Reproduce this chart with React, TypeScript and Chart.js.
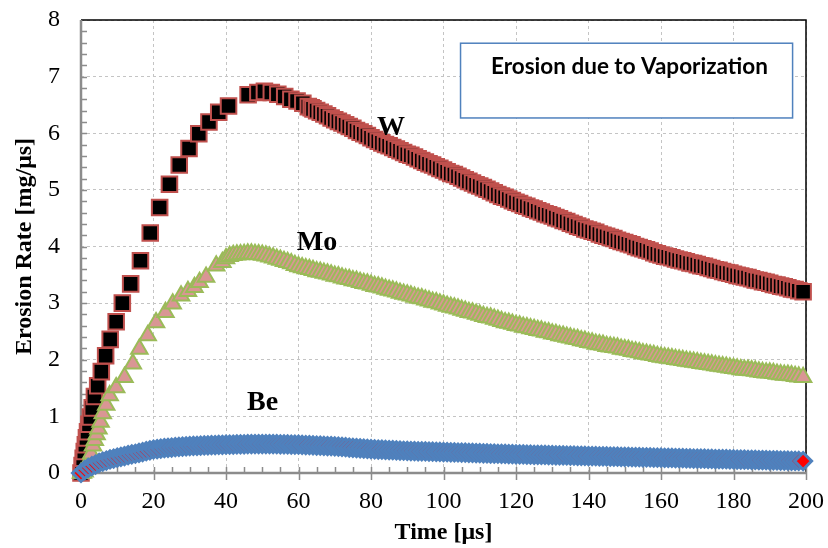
import React, { useEffect, useRef } from "react";
import { Chart, registerables } from "chart.js";

Chart.register(...registerables);

// shared time grid of the dense part of the simulation output [µs]
const GRID_T = [
  0, 1, 2, 3, 4, 5, 6, 7, 8, 9, 10, 11, 12, 13, 14, 15, 16, 17, 18, 19,
  20, 21, 22, 23, 24, 25, 26, 27, 28, 29, 30, 31, 32, 33, 34, 35, 36, 37, 38, 39,
  40, 41, 42, 43, 44, 45, 46, 47, 48, 49, 50, 51, 52, 53, 54, 55, 56, 57, 58, 59,
  60, 61, 62, 63, 64, 65, 66, 67, 68, 69, 70, 71, 72, 73, 74, 75, 76, 77, 78, 79,
  80, 81, 82, 83, 84, 85, 86, 87, 88, 89, 90, 91, 92, 93, 94, 95, 96, 97, 98, 99,
  100, 101, 102, 103, 104, 105, 106, 107, 108, 109, 110, 111, 112, 113, 114, 115, 116, 117, 118, 119,
  120, 121, 122, 123, 124, 125, 126, 127, 128, 129, 130, 131, 132, 133, 134, 135, 136, 137, 138, 139,
  140, 141, 142, 143, 144, 145, 146, 147, 148, 149, 150, 151, 152, 153, 154, 155, 156, 157, 158, 159,
  160, 161, 162, 163, 164, 165, 166, 167, 168, 169, 170, 171, 172, 173, 174, 175, 176, 177, 178, 179,
  180, 181, 182, 183, 184, 185, 186, 187, 188, 189, 190, 191, 192, 193, 194, 195, 196, 197, 198, 199.2,
];

// W
const W_EARLY_T = [
  0, 0.3, 0.6, 0.9, 1.2, 1.5, 1.8, 2.2, 2.6, 3.1,
  3.7, 4.6, 5.6, 6.8, 8.05, 9.7, 11.4, 13.7, 16.4, 19.1,
  21.7, 24.4, 27.1, 29.8, 32.5, 35.3, 38.0, 40.7, 46.1, 48.8,
  50.6, 52.5, 54.3, 56.2, 57.9, 59.6, 61.2, 62.7, 63.5,
];
const W_EARLY_V = [
  0, 0.13, 0.26, 0.38, 0.5, 0.62, 0.73, 0.86, 0.99, 1.15,
  1.35, 1.54, 1.79, 2.07, 2.36, 2.67, 3.0, 3.34, 3.75, 4.24,
  4.69, 5.1, 5.44, 5.73, 5.99, 6.2, 6.37, 6.48, 6.68, 6.72,
  6.74, 6.72, 6.69, 6.65, 6.6, 6.57, 6.53, 6.47, 6.45,
];
const W_LATE_START = 64;
const W_LATE_V = [
  6.43, 6.4, 6.37, 6.34, 6.31, 6.27, 6.24, 6.21, 6.18, 6.15,
  6.12, 6.09, 6.05, 6.02, 5.99, 5.96, 5.92, 5.89, 5.86, 5.83,
  5.8, 5.78, 5.75, 5.72, 5.69, 5.66, 5.63, 5.61, 5.58, 5.55,
  5.52, 5.49, 5.46, 5.44, 5.41, 5.38, 5.35, 5.32, 5.29, 5.27,
  5.24, 5.21, 5.18, 5.15, 5.12, 5.09, 5.07, 5.04, 5.01, 4.98,
  4.95, 4.92, 4.89, 4.87, 4.84, 4.81, 4.78, 4.76, 4.73, 4.71,
  4.68, 4.66, 4.63, 4.61, 4.58, 4.56, 4.54, 4.51, 4.49, 4.46,
  4.44, 4.41, 4.39, 4.36, 4.34, 4.31, 4.29, 4.27, 4.25, 4.22,
  4.2, 4.18, 4.16, 4.14, 4.11, 4.09, 4.07, 4.05, 4.03, 4.0,
  3.98, 3.96, 3.94, 3.92, 3.89, 3.87, 3.85, 3.83, 3.82, 3.8,
  3.78, 3.76, 3.75, 3.73, 3.71, 3.7, 3.68, 3.66, 3.65, 3.63,
  3.61, 3.59, 3.58, 3.56, 3.54, 3.53, 3.51, 3.49, 3.48, 3.46,
  3.45, 3.43, 3.41, 3.4, 3.38, 3.37, 3.35, 3.33, 3.32, 3.3,
  3.29, 3.27, 3.25, 3.24, 3.22, 3.2,
];

// Mo
const MO_EARLY_T = [
  0, 0.5, 1.0, 1.5, 1.9, 2.3, 2.8, 3.3, 3.8, 4.3,
  4.8, 5.4, 6.0, 6.95, 7.9, 9.7, 12.0, 14.3, 16.1, 18.4,
  20.7, 23.3, 25.3, 27.6, 29.5, 31.3, 32.7, 34.5, 37.3,
];
const MO_EARLY_V = [
  0, 0.0, 0.02, 0.08, 0.12, 0.23, 0.34, 0.48, 0.58, 0.68,
  0.78, 0.9, 1.05, 1.2, 1.37, 1.51, 1.69, 1.93, 2.19, 2.43,
  2.66, 2.84, 2.99, 3.13, 3.21, 3.28, 3.37, 3.46, 3.66,
];
const MO_LATE_START = 39;
const MO_LATE_V = [
  3.72, 3.79, 3.83, 3.845, 3.855, 3.86, 3.865, 3.87, 3.87, 3.865,
  3.86, 3.85, 3.835, 3.82, 3.8, 3.78, 3.76, 3.74, 3.72, 3.7,
  3.67, 3.645, 3.63, 3.61, 3.6, 3.58, 3.56, 3.55, 3.53, 3.52,
  3.5, 3.48, 3.47, 3.45, 3.43, 3.42, 3.4, 3.39, 3.37, 3.35,
  3.34, 3.32, 3.3, 3.29, 3.27, 3.25, 3.23, 3.22, 3.2, 3.18,
  3.16, 3.15, 3.13, 3.11, 3.09, 3.08, 3.06, 3.04, 3.02, 3.01,
  2.99, 2.97, 2.95, 2.93, 2.92, 2.9, 2.88, 2.86, 2.84, 2.83,
  2.81, 2.79, 2.77, 2.75, 2.74, 2.72, 2.7, 2.68, 2.66, 2.65,
  2.63, 2.61, 2.6, 2.58, 2.57, 2.55, 2.54, 2.52, 2.51, 2.49,
  2.48, 2.46, 2.45, 2.43, 2.42, 2.4, 2.39, 2.37, 2.36, 2.34,
  2.33, 2.31, 2.3, 2.28, 2.27, 2.26, 2.24, 2.23, 2.22, 2.21,
  2.19, 2.18, 2.17, 2.15, 2.14, 2.13, 2.11, 2.1, 2.09, 2.08,
  2.06, 2.05, 2.04, 2.03, 2.02, 2.01, 2.0, 1.99, 1.98, 1.97,
  1.96, 1.95, 1.94, 1.93, 1.92, 1.91, 1.9, 1.89, 1.88, 1.87,
  1.86, 1.85, 1.84, 1.83, 1.82, 1.82, 1.81, 1.8, 1.79, 1.78,
  1.77, 1.77, 1.76, 1.75, 1.74, 1.73, 1.73, 1.72, 1.71, 1.7,
  1.69,
];

// Be (on the full grid)
const BE_V = [
  0.0, 0.05, 0.09, 0.12, 0.15, 0.18, 0.2, 0.22, 0.24, 0.255,
  0.27, 0.285, 0.3, 0.315, 0.33, 0.34, 0.355, 0.37, 0.385, 0.4,
  0.415, 0.42, 0.43, 0.44, 0.445, 0.45, 0.455, 0.46, 0.465, 0.47,
  0.475, 0.477, 0.48, 0.483, 0.486, 0.489, 0.492, 0.494, 0.496, 0.498,
  0.5, 0.502, 0.503, 0.505, 0.506, 0.507, 0.508, 0.509, 0.51, 0.51,
  0.51, 0.51, 0.51, 0.509, 0.508, 0.507, 0.506, 0.505, 0.503, 0.501,
  0.5, 0.497, 0.494, 0.491, 0.488, 0.485, 0.482, 0.479, 0.476, 0.473,
  0.47, 0.465, 0.46, 0.455, 0.45, 0.445, 0.44, 0.435, 0.43, 0.425,
  0.42, 0.417, 0.414, 0.411, 0.408, 0.405, 0.402, 0.399, 0.396, 0.393,
  0.39, 0.388, 0.386, 0.384, 0.382, 0.38, 0.378, 0.376, 0.374, 0.372,
  0.37, 0.368, 0.366, 0.364, 0.362, 0.36, 0.358, 0.356, 0.354, 0.352,
  0.35, 0.348, 0.346, 0.344, 0.342, 0.34, 0.338, 0.336, 0.334, 0.332,
  0.33, 0.328, 0.327, 0.325, 0.324, 0.322, 0.321, 0.319, 0.318, 0.316,
  0.315, 0.313, 0.312, 0.31, 0.309, 0.307, 0.306, 0.304, 0.303, 0.301,
  0.3, 0.298, 0.297, 0.295, 0.294, 0.292, 0.291, 0.289, 0.288, 0.286,
  0.285, 0.283, 0.282, 0.28, 0.279, 0.277, 0.276, 0.274, 0.273, 0.271,
  0.27, 0.268, 0.267, 0.265, 0.264, 0.262, 0.261, 0.259, 0.258, 0.256,
  0.255, 0.253, 0.252, 0.25, 0.249, 0.247, 0.246, 0.244, 0.243, 0.241,
  0.24, 0.238, 0.237, 0.235, 0.234, 0.232, 0.231, 0.229, 0.228, 0.226,
  0.225, 0.223, 0.222, 0.22, 0.219, 0.217, 0.216, 0.214, 0.213, 0.21,
];

const SERIES_LABELS = ["W", "Mo", "Be"];
const LABEL_T = [85.5, 65.1, 50.1];
const LABEL_V = [5.97, 3.94, 1.11];

const BOX_TEXT = "Erosion due to Vaporization";
const BOX_T = [104.7, 196.3];
const BOX_V = [7.59, 6.27];
const BOX_TEXT_T = 151.3;
const BOX_TEXT_V = 7.05;

const X_TITLE = "Time [μs]";
const Y_TITLE = "Erosion Rate [mg/μs]";

function pts(ts: number[], vs: number[]) {
  return ts.map((t, i) => ({ x: t, y: vs[i] }));
}

const SERIF = "'Liberation Serif', 'Times New Roman', serif";

const decor = {
  id: "decor",
  beforeDatasetsDraw(chart: any) {
    const { ctx, chartArea: a, scales } = chart;
    const x = scales.x;
    const y = scales.y;
    ctx.save();
    ctx.strokeStyle = "#000";
    ctx.lineWidth = 1.5;
    ctx.beginPath();
    ctx.moveTo(a.left, a.top);
    ctx.lineTo(a.right, a.top);
    ctx.lineTo(a.right, a.bottom);
    ctx.stroke();
    ctx.strokeStyle = "#8c8c8c";
    ctx.lineWidth = 2.5;
    ctx.beginPath();
    ctx.moveTo(a.left, a.top);
    ctx.lineTo(a.left, a.bottom);
    ctx.lineTo(a.right, a.bottom);
    ctx.stroke();
    ctx.lineWidth = 1.5;
    ctx.beginPath();
    for (let k = 1; k < 40; k++) {
      const py = Math.round(y.getPixelForValue(k * 0.2)) + 0.5;
      ctx.moveTo(a.left, py);
      ctx.lineTo(a.left + 6, py);
    }
    for (let k = 1; k <= 40; k++) {
      const px = Math.round(x.getPixelForValue(k * 5)) + 0.5;
      if (k % 4 === 0) {
        ctx.moveTo(px, a.bottom + 7);
        ctx.lineTo(px, a.bottom - 6);
      } else {
        ctx.moveTo(px, a.bottom);
        ctx.lineTo(px, a.bottom - 6);
      }
    }
    ctx.stroke();
    ctx.restore();
  },
  afterDatasetsDraw(chart: any) {
    const { ctx, scales } = chart;
    const x = scales.x;
    const y = scales.y;
    ctx.save();
    ctx.fillStyle = "#000";
    ctx.textAlign = "center";
    ctx.textBaseline = "alphabetic";
    ctx.font = `bold 28px ${SERIF}`;
    SERIES_LABELS.forEach((s, i) => {
      ctx.fillText(s, x.getPixelForValue(LABEL_T[i]), y.getPixelForValue(LABEL_V[i]));
    });
    const bx0 = x.getPixelForValue(BOX_T[0]);
    const bx1 = x.getPixelForValue(BOX_T[1]);
    const by0 = y.getPixelForValue(BOX_V[0]);
    const by1 = y.getPixelForValue(BOX_V[1]);
    ctx.fillStyle = "#fff";
    ctx.fillRect(bx0, by0, bx1 - bx0, by1 - by0);
    ctx.strokeStyle = "#4f81bd";
    ctx.lineWidth = 1.5;
    ctx.strokeRect(bx0, by0, bx1 - bx0, by1 - by0);
    ctx.fillStyle = "#000";
    ctx.font = "bold 20px 'Lato', 'Liberation Sans', sans-serif";
    const w = ctx.measureText(BOX_TEXT).width;
    const size = (20 * 277) / w;
    ctx.font = `bold ${size.toFixed(2)}px 'Lato', 'Liberation Sans', sans-serif`;
    ctx.fillText(BOX_TEXT, x.getPixelForValue(BOX_TEXT_T), y.getPixelForValue(BOX_TEXT_V));
    ctx.restore();
  },
};

export default function App() {
  const ref = useRef<HTMLCanvasElement>(null);
  useEffect(() => {
    document.body.style.margin = "0";
    const canvas = ref.current;
    if (!canvas) return;
    const wData = pts(
      [...W_EARLY_T, ...GRID_T.slice(W_LATE_START)],
      [...W_EARLY_V, ...W_LATE_V]
    );
    const moData = pts(
      [...MO_EARLY_T, ...GRID_T.slice(MO_LATE_START)],
      [...MO_EARLY_V, ...MO_LATE_V]
    );
    const beData = pts(GRID_T, BE_V);
    const chart = new Chart(canvas, {
      type: "scatter",
      data: {
        datasets: [
          {
            label: "W",
            data: wData,
            order: 3,
            pointStyle: "rect",
            pointRadius: 11,
            backgroundColor: "#000000",
            borderColor: "#c0504d",
            borderWidth: 2,
            clip: false,
          } as any,
          {
            label: "Mo",
            data: moData,
            order: 2,
            pointStyle: "triangle",
            pointRadius: 9.5,
            backgroundColor: "#d99694",
            borderColor: "#9bbb59",
            borderWidth: 2,
            clip: false,
          } as any,
          {
            label: "Be",
            data: beData,
            order: 1,
            pointStyle: "rectRot",
            pointRadius: 8.5,
            backgroundColor: "#ff0000",
            borderColor: "#4f81bd",
            borderWidth: 3,
            clip: false,
          } as any,
        ],
      },
      options: {
        animation: false,
        responsive: false,
        events: [],
        layout: { padding: { left: 0, right: 22, top: 20, bottom: 0 } },
        plugins: { legend: { display: false }, tooltip: { enabled: false } },
        scales: {
          x: {
            type: "linear",
            min: 0,
            max: 200,
            afterFit: (s: any) => {
              s.height = 75;
            },
            ticks: {
              stepSize: 20,
              padding: 0,
              color: "#000",
              maxRotation: 0,
              font: { family: SERIF, size: 24 },
            },
            grid: {
              color: "#c4c4c4",
              lineWidth: 1,
              drawTicks: true,
              tickLength: 14,
              tickColor: "rgba(0,0,0,0)",
            },
            border: { display: false, dash: [3, 3] },
            title: {
              display: true,
              text: X_TITLE,
              color: "#000",
              font: { family: SERIF, size: 24, weight: "bold" },
              padding: { top: 0, bottom: 1 },
            },
          },
          y: {
            type: "linear",
            min: 0,
            max: 8,
            afterFit: (s: any) => {
              s.width = 81;
            },
            ticks: {
              stepSize: 1,
              padding: 0,
              color: "#000",
              font: { family: SERIF, size: 24 },
            },
            grid: {
              color: "#c4c4c4",
              lineWidth: 1,
              drawTicks: true,
              tickLength: 21,
              tickColor: "rgba(0,0,0,0)",
            },
            border: { display: false, dash: [3, 3] },
            title: {
              display: true,
              text: Y_TITLE,
              color: "#000",
              font: { family: SERIF, size: 24, weight: "bold" },
              padding: { top: 10, bottom: 0 },
            },
          },
        },
      } as any,
      plugins: [decor],
    });
    return () => chart.destroy();
  }, []);
  return (
    <div style={{ position: "relative", width: 828, height: 548 }}>
      <canvas ref={ref} width={828} height={548} style={{ display: "block" }} />
    </div>
  );
}
